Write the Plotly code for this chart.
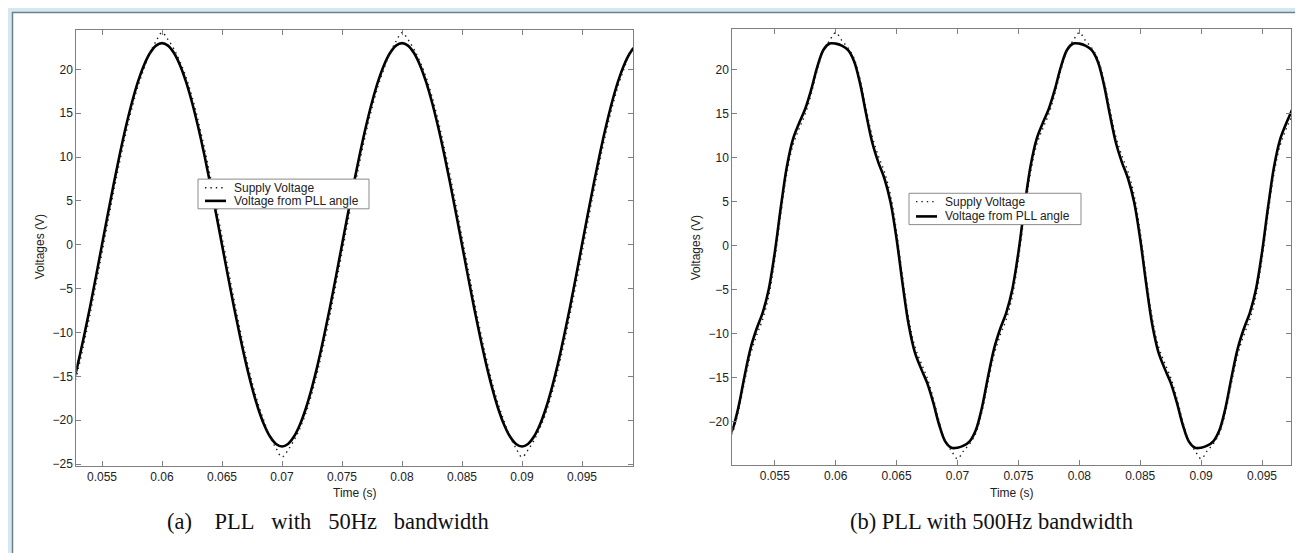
import plotly.graph_objects as go

W, H = 1303, 553

# ---------------- data ----------------
time_s = [
    0.0510, 0.0515, 0.0520, 0.0525, 0.0530, 0.0535, 0.0540, 0.0545, 0.0550, 0.0555,
    0.0560, 0.0565, 0.0570, 0.0575, 0.0580, 0.0585, 0.0590, 0.0595, 0.0600, 0.0605,
    0.0610, 0.0615, 0.0620, 0.0625, 0.0630, 0.0635, 0.0640, 0.0645, 0.0650, 0.0655,
    0.0660, 0.0665, 0.0670, 0.0675, 0.0680, 0.0685, 0.0690, 0.0695, 0.0700, 0.0705,
    0.0710, 0.0715, 0.0720, 0.0725, 0.0730, 0.0735, 0.0740, 0.0745, 0.0750, 0.0755,
    0.0760, 0.0765, 0.0770, 0.0775, 0.0780, 0.0785, 0.0790, 0.0795, 0.0800, 0.0805,
    0.0810, 0.0815, 0.0820, 0.0825, 0.0830, 0.0835, 0.0840, 0.0845, 0.0850, 0.0855,
    0.0860, 0.0865, 0.0870, 0.0875, 0.0880, 0.0885, 0.0890, 0.0895, 0.0900, 0.0905,
    0.0910, 0.0915, 0.0920, 0.0925, 0.0930, 0.0935, 0.0940, 0.0945, 0.0950, 0.0955,
    0.0960, 0.0965, 0.0970, 0.0975, 0.0980, 0.0985, 0.0990, 0.0995, 0.1000,
]

# (a) PLL with 50Hz bandwidth
supply_a = [
    -22.3, -20.90, -19.14, -16.90, -14.25, -11.24, -7.97, -4.49, -0.90, 2.71,
    6.25, 9.64, 12.79, 15.62, 18.08, 20.08, 21.9, 23.2,
    24.2, 23.4, 22.3, 20.90, 19.14, 16.90, 14.25, 11.24, 7.97, 4.49,
    0.90, -2.71, -6.25, -9.64, -12.79, -15.62, -18.08, -20.08, -21.9, -23.2,
    -24.2, -23.4, -22.3, -20.90, -19.14, -16.90, -14.25, -11.24, -7.97, -4.49,
    -0.90, 2.71, 6.25, 9.64, 12.79, 15.62, 18.08, 20.08, 21.9, 23.2,
    24.2, 23.4, 22.3, 20.90, 19.14, 16.90, 14.25, 11.24, 7.97, 4.49,
    0.90, -2.71, -6.25, -9.64, -12.79, -15.62, -18.08, -20.08, -21.9, -23.2,
    -24.2, -23.4, -22.3, -20.90, -19.14, -16.90, -14.25, -11.24, -7.97, -4.49,
    -0.90, 2.71, 6.25, 9.64, 12.79, 15.62, 18.08, 20.08, 21.9, 23.2,
    24.2,
]
pll_a = [
    -21.87, -20.49, -18.61, -16.26, -13.52, -10.44, -7.11, -3.60, 0.00, 3.60,
    7.11, 10.44, 13.52, 16.26, 18.61, 20.49, 21.87, 22.72,
    23.00, 22.72, 21.87, 20.49, 18.61, 16.26, 13.52, 10.44, 7.11, 3.60,
    0.00, -3.60, -7.11, -10.44, -13.52, -16.26, -18.61, -20.49, -21.87, -22.72,
    -23.00, -22.72, -21.87, -20.49, -18.61, -16.26, -13.52, -10.44, -7.11, -3.60,
    0.00, 3.60, 7.11, 10.44, 13.52, 16.26, 18.61, 20.49, 21.87, 22.72,
    23.00, 22.72, 21.87, 20.49, 18.61, 16.26, 13.52, 10.44, 7.11, 3.60,
    0.00, -3.60, -7.11, -10.44, -13.52, -16.26, -18.61, -20.49, -21.87, -22.72,
    -23.00, -22.72, -21.87, -20.49, -18.61, -16.26, -13.52, -10.44, -7.11, -3.60,
    0.00, 3.60, 7.11, 10.44, 13.52, 16.26, 18.61, 20.49, 21.87, 22.72,
    23.00,
]

# (b) PLL with 500Hz bandwidth
supply_b = [
    -22.5, -21.31, -18.92, -15.56, -12.41, -10.20, -8.38, -5.75, -1.56, 3.63,
    8.31, 11.45, 13.30, 14.97, 17.27, 20.00, 22.2, 23.3,
    24.2, 23.3, 22.5, 21.31, 18.92, 15.56, 12.41, 10.20, 8.38, 5.75,
    1.56, -3.63, -8.31, -11.45, -13.30, -14.97, -17.27, -20.00, -22.2, -23.3,
    -24.2, -23.3, -22.5, -21.31, -18.92, -15.56, -12.41, -10.20, -8.38, -5.75,
    -1.56, 3.63, 8.31, 11.45, 13.30, 14.97, 17.27, 20.00, 22.2, 23.3,
    24.2, 23.3, 22.5, 21.31, 18.92, 15.56, 12.41, 10.20, 8.38, 5.75,
    1.56, -3.63, -8.31, -11.45, -13.30, -14.97, -17.27, -20.00, -22.2, -23.3,
    -24.2, -23.3, -22.5, -21.31, -18.92, -15.56, -12.41, -10.20, -8.38, -5.75,
    -1.56, 3.63, 8.31, 11.45, 13.30, 14.97, 17.27, 20.00, 22.2, 23.3,
    24.2,
]
pll_b = [
    -22.23, -20.98, -18.44, -14.95, -11.72, -9.47, -7.63, -4.97, -0.76, 4.42,
    9.05, 12.13, 13.94, 15.56, 17.78, 20.37, 22.26, 22.96,
    22.95, 22.72, 22.23, 20.98, 18.44, 14.95, 11.72, 9.47, 7.63, 4.97,
    0.76, -4.42, -9.05, -12.13, -13.94, -15.56, -17.78, -20.37, -22.26, -22.96,
    -22.95, -22.72, -22.23, -20.98, -18.44, -14.95, -11.72, -9.47, -7.63, -4.97,
    -0.76, 4.42, 9.05, 12.13, 13.94, 15.56, 17.78, 20.37, 22.26, 22.96,
    22.95, 22.72, 22.23, 20.98, 18.44, 14.95, 11.72, 9.47, 7.63, 4.97,
    0.76, -4.42, -9.05, -12.13, -13.94, -15.56, -17.78, -20.37, -22.26, -22.96,
    -22.95, -22.72, -22.23, -20.98, -18.44, -14.95, -11.72, -9.47, -7.63, -4.97,
    -0.76, 4.42, 9.05, 12.13, 13.94, 15.56, 17.78, 20.37, 22.26, 22.96,
    22.95,
]

x_tickvals = [0.055, 0.06, 0.065, 0.07, 0.075, 0.08, 0.085, 0.09, 0.095]
x_ticktext = ["0.055", "0.06", "0.065", "0.07", "0.075", "0.08", "0.085", "0.09", "0.095"]
y_tickvals_a = [-25, -20, -15, -10, -5, 0, 5, 10, 15, 20]
y_tickvals_b = [-20, -15, -10, -5, 0, 5, 10, 15, 20]

series_names = ["Supply Voltage", "Voltage from PLL angle"]
x_title = "Time (s)"
y_title = "Voltages (V)"
NB = "\u00a0"
captions = [
    "(a)" + NB * 4 + "PLL" + NB * 3 + "with" + NB * 3 + "50Hz" + NB * 3 + "bandwidth",
    "(b) PLL with 500Hz bandwidth",
]

# ---------------- styling helpers ----------------
def px(x):
    return x / W


def py(y):
    return 1 - y / H


SANS = "Liberation Sans, Arial, Helvetica, sans-serif"
SERIF = "Liberation Serif, Times New Roman, serif"
AXC = "#7f7f7f"
DOT = "1.4px,4px"

fig = go.Figure()

panels = [
    ("x", "y", supply_a, pll_a),
    ("x2", "y2", supply_b, pll_b),
]
for xa, ya, sup, pll in panels:
    fig.add_trace(go.Scatter(
        x=time_s, y=pll, mode="lines", name=series_names[1], showlegend=False,
        line=dict(color="#000000", width=2.6, shape="spline"),
        xaxis=xa, yaxis=ya,
    ))
    fig.add_trace(go.Scatter(
        x=time_s, y=sup, mode="lines", name=series_names[0], showlegend=False,
        line=dict(color="#1a1a1a", width=1.4, dash=DOT, shape="spline"),
        xaxis=xa, yaxis=ya,
    ))

axis_common = dict(
    showline=True, linecolor=AXC, linewidth=1, mirror="ticks",
    ticks="inside", ticklen=5, tickwidth=1, tickcolor=AXC,
    showgrid=False, zeroline=False,
    tickfont=dict(family=SANS, size=12, color="#222222"),
)

fig.update_layout(
    width=W, height=H, autosize=False,
    margin=dict(l=0, r=0, t=0, b=0, pad=0),
    paper_bgcolor="white", plot_bgcolor="white",
    showlegend=False,
    xaxis=dict(domain=[px(68.3), px(625)], range=[0.052858, 0.09925],
               tickvals=x_tickvals, ticktext=x_ticktext, anchor="y", **axis_common),
    yaxis=dict(domain=[py(462.7), py(22.5)], range=[-25.19, 24.47],
               tickvals=y_tickvals_a, anchor="x", **axis_common),
    xaxis2=dict(domain=[px(724.3), px(1283)], range=[0.051511, 0.09738],
                tickvals=x_tickvals, ticktext=x_ticktext, anchor="y2", **axis_common),
    yaxis2=dict(domain=[py(461.7), py(21.7)], range=[-24.88, 24.56],
                tickvals=y_tickvals_b, anchor="x2", **axis_common),
)

shapes = []
annotations = []

# page frame (top and left light-blue band with a grey rule)
shapes.append(dict(type="rect", xref="paper", yref="paper", x0=0, x1=1, y0=py(4), y1=1,
                   fillcolor="#d3e8f0", line=dict(width=0), layer="above"))
shapes.append(dict(type="rect", xref="paper", yref="paper", x0=0, x1=px(4), y0=0, y1=1,
                   fillcolor="#d3e8f0", line=dict(width=0), layer="above"))
shapes.append(dict(type="line", xref="paper", yref="paper", x0=px(4), x1=1, y0=py(4.5), y1=py(4.5),
                   line=dict(color="#6f7f86", width=1.5), layer="above"))
shapes.append(dict(type="line", xref="paper", yref="paper", x0=px(4.5), x1=px(4.5), y0=0, y1=py(4),
                   line=dict(color="#6f7f86", width=1.5), layer="above"))

# legends (one per panel)
legend_boxes = [
    (190, 173, 361, 203, 181.7, 195.0),
    (901, 187.3, 1073, 219, 195.7, 210.7),
]
for (x0, y0, x1, y1, r1, r2) in legend_boxes:
    shapes.append(dict(type="rect", xref="paper", yref="paper",
                       x0=px(x0), x1=px(x1), y0=py(y1), y1=py(y0),
                       fillcolor="white", line=dict(color="#8a8a8a", width=1), layer="above"))
    shapes.append(dict(type="line", xref="paper", yref="paper",
                       x0=px(x0 + 7), x1=px(x0 + 28), y0=py(r1), y1=py(r1),
                       line=dict(color="#1a1a1a", width=1.4, dash=DOT), layer="above"))
    shapes.append(dict(type="line", xref="paper", yref="paper",
                       x0=px(x0 + 7), x1=px(x0 + 28), y0=py(r2), y1=py(r2),
                       line=dict(color="#000000", width=2.6), layer="above"))
    for row_y, label in ((r1, series_names[0]), (r2, series_names[1])):
        annotations.append(dict(xref="paper", yref="paper", x=px(x0 + 34), y=py(row_y),
                                text=label, showarrow=False, xanchor="left", yanchor="middle",
                                font=dict(family=SANS, size=12, color="#222222")))

# axis titles
for cx in (346.6, 1003.6):
    annotations.append(dict(xref="paper", yref="paper", x=px(cx), y=py(490),
                            text=x_title, showarrow=False, xanchor="center", yanchor="middle",
                            font=dict(family=SANS, size=12, color="#222222")))
for cx in (32, 688):
    annotations.append(dict(xref="paper", yref="paper", x=px(cx), y=py(242),
                            text=y_title, showarrow=False, textangle=-90,
                            xanchor="center", yanchor="middle",
                            font=dict(family=SANS, size=12, color="#222222")))

# captions
for cx, cap in ((320, captions[0]), (983, captions[1])):
    annotations.append(dict(xref="paper", yref="paper", x=px(cx), y=py(519),
                            text=cap, showarrow=False, xanchor="center", yanchor="middle",
                            font=dict(family=SERIF, size=22.5, color="#111111")))

fig.update_layout(shapes=shapes, annotations=annotations)

fig.write_html("out.html")
